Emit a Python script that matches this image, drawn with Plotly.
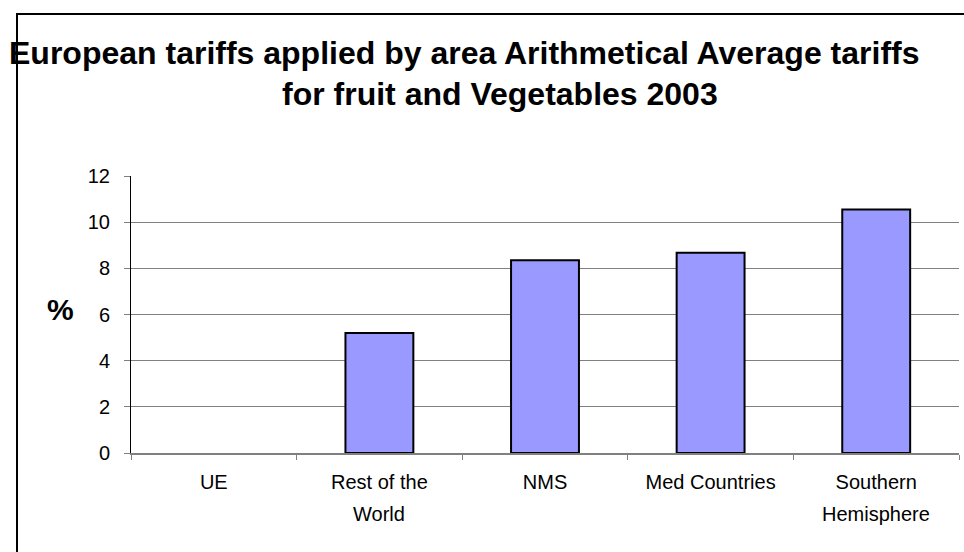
import plotly.graph_objects as go

# ---- data ----
categories = ["UE", "Rest of the\nWorld", "NMS", "Med Countries", "Southern\nHemisphere"]
values = [0, 5.2, 8.35, 8.68, 10.55]
y_ticks = [0, 2, 4, 6, 8, 10, 12]
title_line1 = "European tariffs applied by area Arithmetical Average tariffs"
title_line2 = "for fruit and Vegetables 2003"
y_label = "%"

W, H = 964, 552
L, R, T, B = 131, 5, 176, 99
PW, PH = W - L - R, H - T - B

def xp(px):
    return (px - L) / PW

def yp(py):
    return (H - B - py) / PH

FONT = "Liberation Sans, Arial, sans-serif"

first_lines = [c.split("\n")[0] for c in categories]
fig = go.Figure()
fig.add_trace(go.Bar(
    x=first_lines, y=values, width=0.41,
    marker=dict(color="#9999FF",
                line=dict(color="black", width=[2 if v > 0 else 0 for v in values])),
    hoverinfo="x+y",
))

annotations = [
    dict(text=f"<b>{title_line1}</b>", xref="paper", yref="paper", x=xp(464), y=yp(53),
         xanchor="center", yanchor="middle", showarrow=False,
         font=dict(family=FONT, size=32, color="black")),
    dict(text=f"<b>{title_line2}</b>", xref="paper", yref="paper", x=xp(500), y=yp(94),
         xanchor="center", yanchor="middle", showarrow=False,
         font=dict(family=FONT, size=32, color="black")),
    dict(text=f"<b>{y_label}</b>", xref="paper", yref="paper", x=xp(60), y=yp(309),
         xanchor="center", yanchor="middle", showarrow=False,
         font=dict(family=FONT, size=30, color="black")),
]
for c in categories:
    parts = c.split("\n")
    if len(parts) > 1:
        annotations.append(dict(text=parts[1], xref="x", yref="paper", x=parts[0], y=yp(514),
                                xanchor="center", yanchor="middle", showarrow=False,
                                font=dict(family=FONT, size=20, color="black")))

fig.update_layout(
    width=W, height=H,
    margin=dict(l=L, r=R, t=T, b=B),
    paper_bgcolor="white", plot_bgcolor="white",
    showlegend=False,
    bargap=0.59,
    font=dict(family=FONT, size=20, color="black"),
    annotations=annotations,
    shapes=[dict(type="rect", xref="paper", yref="paper",
                 x0=xp(17), x1=xp(1010), y0=yp(620), y1=yp(14),
                 line=dict(color="black", width=2), fillcolor="rgba(0,0,0,0)", layer="below")],
    xaxis=dict(
        type="category",
        showline=True, linecolor="#808080", linewidth=2,
        ticks="outside", tickson="boundaries", ticklen=5, tickcolor="#808080", tickwidth=1,
        showgrid=False, zeroline=False,
        tickfont=dict(family=FONT, size=20, color="black"),
        ticklabelstandoff=10,
    ),
    yaxis=dict(
        range=[0, 12], tickvals=y_ticks, ticktext=[str(v) for v in y_ticks],
        showline=True, linecolor="black", linewidth=1,
        ticks="outside", ticklen=6, tickcolor="#808080", tickwidth=1,
        showgrid=True, gridcolor="#808080", gridwidth=1,
        zeroline=False,
        tickfont=dict(family=FONT, size=20, color="black"),
        ticklabelstandoff=10,
    ),
)

fig.write_html("out.html")
